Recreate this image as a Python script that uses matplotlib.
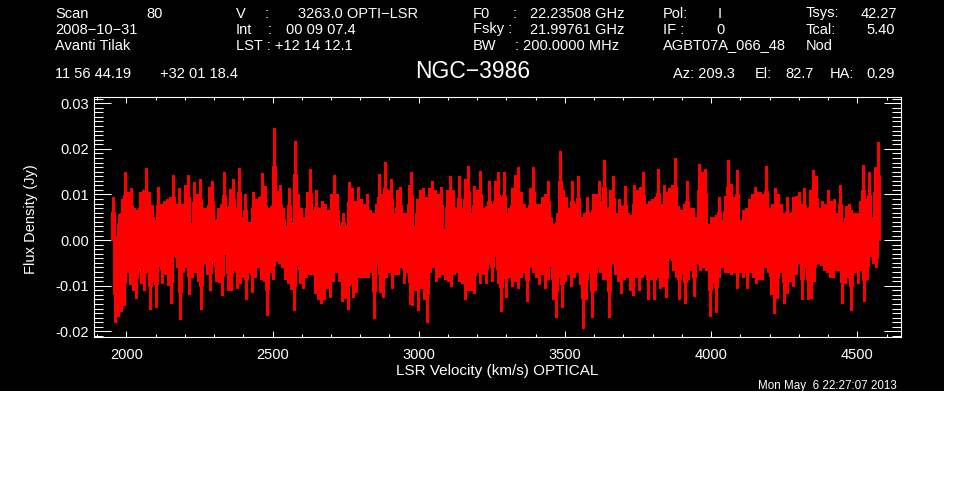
import numpy as np
import matplotlib
matplotlib.use('Agg')
import matplotlib.pyplot as plt
from matplotlib.patches import Rectangle
from matplotlib.ticker import MultipleLocator, FormatStrFormatter

# peaks and troughs of the spectrum in mJy left to right
hi_a = [9.4, 0.8, 5.7, 9, 14.9, 10.6, 11.5, 7, 6.5, 10.6, 11, 15.7, 10.6, 7.6, 4.5, 11.6, 8, 8.5, 9, 9.5,
        14.2, 8, 11.4, 8, 12, 14.2, 3.7, 12.7, 10, 13.5, 7, 7, 11.7, 12.9, 4.3, 7, 8, 15, 7, 11.3,
        13.5, 7, 15.9, 5, 10, 4, 4, 10.5, 9, 9.4, 14.6, 11.8, 7, 7.5, 24.5, 10.8, 12, 7, 3, 11.5,
        4, 21.8, 10, 7, 5, 10.6, 15.5, 6.5, 11, 7, 8.5, 8, 6.5, 10, 14.2, 10, 3, 6, 3, 12.7,
        11.5, 8.5, 11.7, 9, 8, 10]
lo_a = [-18, -16.6, -15.5, -14.3, -7, -9.7, -11, -12.7, -6, -9.5, -11, -7, -15.1, -9, -14.6, -5.7, -9.5, -7.5, -9.8, -13.8,
        -3.5, -6, -17.3, -7, -6, -11.9, -8, -7, -9, -15.1, -5, -7.5, -11, -4.5, -9, -9.2, -12, -3, -11, -11,
        -6.5, -10.5, -9.5, -8, -13, -7, -11.4, -8, -6, -8.5, -9, -16.4, -7, -8.5, -4.5, -5, -6, -8.5, -9.5, -10.8,
        -15.4, -5.5, -9.5, -10.5, -8, -7.5, -7.5, -11.5, -13, -13.8, -13, -10.5, -12.5, -9, -7, -9, -13.4, -12.7, -15, -9.5,
        -12.5, -11.4, -8, -8, -8, -8]
hi_b = [6.5, 6, 8, 14.4, 10, 17.2, 11, 13.5, 6, 11, 11.7, 6, 6, 12, 15, 3, 9, 11, 11.5, 9.5,
        11.5, 13, 11, 10, 11.7, 2.5, 11, 14, 11, 7, 14, 7, 13.5, 16.2, 6, 11.8, 11, 15.2, 7, 7.5,
        13, 8, 13, 15, 9.5, 15, 6, 7, 11.5, 14.2, 16, 10.5, 8, 7, 11.5, 16, 8, 8, 9.5, 10.2,
        13, 5, 3.5, 6, 19.6, 11, 9.5, 7, 13, 8, 14, 5, 6, 9.5, 6, 10, 10.2, 13, 4, 17.5,
        7, 11, 14, 6, 9, 7.5, 11.8, 6, 5.5, 12, 11]
lo_b = [-7, -17, -5, -11.3, -12.5, -8, -7, -10.5, -7.5, -7.5, -6, -9.5, -7, -14, -14.3, -11, -15.4, -10.5, -13, -18,
        -7, -6, -9, -8, -7.5, -8.5, -9, -10, -7.5, -7, -9, -9.5, -13, -11, -11, -11.5, -7, -9.5, -7.5, -9.5,
        -5, -9, -3.5, -9.5, -15.5, -6.5, -12.5, -8, -10, -9, -10.5, -8, -7, -13.3, -6, -7, -8, -9.7, -7.5, -10.5,
        -8.5, -5, -13, -16.8, -8, -14.6, -9, -7.5, -10, -8, -7, -9.7, -19.2, -13, -7, -16.8, -11, -6, -7, -8.5,
        -8.5, -16.8, -5, -7.5, -9, -11.5, -8.5, -8, -11, -12, -8, -11]
hi_c = [11.7, 15, 8, 8.5, 9, 9.5, 15.5, 8, 12, 10.5, 11.5, 12, 17.9, 7.5, 6.5, 8, 13, 7, 7, 5,
        16.7, 15, 15.5, 3.5, 5, 5, 5.5, 9.5, 4.5, 9.7, 17.5, 12.4, 9.5, 15.3, 4.5, 6.5, 7, 9, 10, 11.7,
        10.5, 10.5, 10, 16.2, 7, 8, 11.5, 10, 8, 6, 9.5, 6, 9.5, 9.7, 10.5, 8, 11.5, 7, 11, 15.3,
        14, 7, 8.5, 8, 11, 8.5, 9, 6, 12, 4, 7.5, 8, 6.5, 6, 6, 8.5, 16.5, 9, 15, 5,
        16, 21.5]
lo_c = [-8, -7.5, -13, -8.5, -13, -8, -10.5, -10, -12.5, -4, -6.5, -8, -12.8, -7.5, -13.8, -8.5, -6.5, -12.3, -5, -6.5,
        -6, -6.5, -16.6, -9.5, -15.7, -8, -6, -7, -7, -7.5, -7, -10.5, -7, -8, -10.5, -7, -8, -9.5, -8.5, -8.5,
        -6, -7, -11.8, -16, -12.7, -7, -13.8, -11.6, -9, -10, -7.5, -5, -13, -6, -13, -12.7, -9, -5, -5.5, -6.5,
        -7, -8, -8, -6.5, -6.5, -13.8, -9.5, -8, -15.4, -7, -9.5, -6.5, -13.3, -8.5, -3.5, -5, -6, 0]

# velocity span of each stretch of the lists above
v_edges = [1955, 2833, 3757, 4580]

x_ticks_major = 500
x_ticks_minor = 100
y_ticks_major = 0.01
y_ticks_minor = 0.001

header = [
    (55, 13, 'Scan'), (146, 13, '80'), (55, 29, '2008\u221210\u221231'), (55, 45, 'Avanti Tilak'),
    (55, 73, '11 56 44.19'), (160, 73, '+32 01 18.4'),
    (236, 13, 'V'), (265, 13, ':'), (298, 13, '3263.0 OPTI\u2212LSR'),
    (236, 29, 'Int'), (268, 29, ':'), (286, 29, '00 09 07.4'),
    (236, 45, 'LST : +12 14 12.1'),
    (473, 13, 'F0'), (513, 13, ':'), (530, 13, '22.23508 GHz'),
    (473, 29, 'Fsky :'), (530, 29, '21.99761 GHz'),
    (473, 45, 'BW'), (515, 45, ': 200.0000 MHz'),
    (663, 13, 'Pol:'), (718, 13, 'I'), (663, 29, 'IF :'), (716, 29, '0'), (663, 45, 'AGBT07A_066_48'),
    (806, 13, 'Tsys:'), (861, 13, '42.27'), (806, 29, 'Tcal:'), (866, 29, '5.40'), (806, 45, 'Nod'),
    (673, 73, 'Az: 209.3'), (755, 73, 'El:'), (785, 73, '82.7'), (830, 73, 'HA:'), (866, 73, '0.29'),
]

W, H = 962, 490
plt.rcParams['font.family'] = ['Liberation Sans', 'DejaVu Sans']

fig = plt.figure(figsize=(W / 100, H / 100), dpi=100, facecolor='white')
fig.patches.append(Rectangle((0, H - 391), 944, 391, transform=None, facecolor='black', edgecolor='none', zorder=-10))

ax = fig.add_axes([94.3 / W, 1 - 337.3 / H, (900.7 - 94.3) / W, 240 / H], facecolor='black')

# each channel is a thin spike, and the part near zero merges into a solid band
CORE = 0.66
for i, (hi, lo) in enumerate([(hi_a, lo_a), (hi_b, lo_b), (hi_c, lo_c)]):
    v_hi = np.linspace(v_edges[i], v_edges[i + 1], len(hi), endpoint=False)
    step = (v_edges[i + 1] - v_edges[i]) / len(lo)
    v_lo = np.linspace(v_edges[i] + step / 2, v_edges[i + 1] + step / 2, len(lo), endpoint=False)
    f_hi = np.array(hi) / 1000.0
    f_lo = np.array(lo) / 1000.0
    ax.vlines(v_hi, 0, f_hi, color='#ff0000', lw=0.8, antialiased=False)
    ax.vlines(v_lo, f_lo, 0, color='#ff0000', lw=0.8, antialiased=False)
    ax.vlines(v_hi, 0, f_hi * CORE, color='#ff0000', lw=2.3, antialiased=False)
    ax.vlines(v_lo, f_lo * CORE, 0, color='#ff0000', lw=2.3, antialiased=False)

ax.set_xlim(1890.6, 4648)
ax.set_ylim(-0.0213, 0.0313)
ax.xaxis.set_major_locator(MultipleLocator(x_ticks_major))
ax.xaxis.set_minor_locator(MultipleLocator(x_ticks_minor))
ax.yaxis.set_major_locator(MultipleLocator(y_ticks_major))
ax.yaxis.set_minor_locator(MultipleLocator(y_ticks_minor))
ax.yaxis.set_major_formatter(FormatStrFormatter('%.2f'))

for s in ax.spines.values():
    s.set_color('white')
    s.set_linewidth(0.8)
ax.tick_params(which='both', direction='in', top=True, right=True, color='white', labelcolor='white', width=0.75)
ax.tick_params(axis='x', which='major', length=4.5, labelsize=10.5, pad=7.5)
ax.tick_params(axis='x', which='minor', length=2.2)
ax.tick_params(axis='y', which='major', length=12, labelsize=10.5, pad=4)
ax.tick_params(axis='y', which='minor', length=6.2)

ax.set_xlabel('LSR Velocity (km/s) OPTICAL', color='white', fontsize=11)
ax.xaxis.set_label_coords((497 - 94.3) / 806.4, -(371 - 337.3) / 240)
ax.xaxis.label.set_va('center')
ax.set_ylabel('Flux Density (Jy)', color='white', fontsize=10.5)
ax.yaxis.set_label_coords((31 - 94.3) / 806.4, (337.3 - 219) / 240)
ax.yaxis.label.set_va('center')

for x, y, s in header:
    fig.text(x / W, 1 - (y + 0.5) / H, s, color='white', fontsize=10.5, va='center', ha='left')
fig.text(473 / W, 1 - 72 / H, 'NGC\u22123986', color='white', fontsize=16.5, va='center', ha='center')
fig.text(897 / W, 1 - 386 / H, 'Mon May  6 22:27:07 2013', color='white', fontsize=8.4, va='center', ha='right')

fig.savefig('out.png', dpi=100, facecolor='white')
